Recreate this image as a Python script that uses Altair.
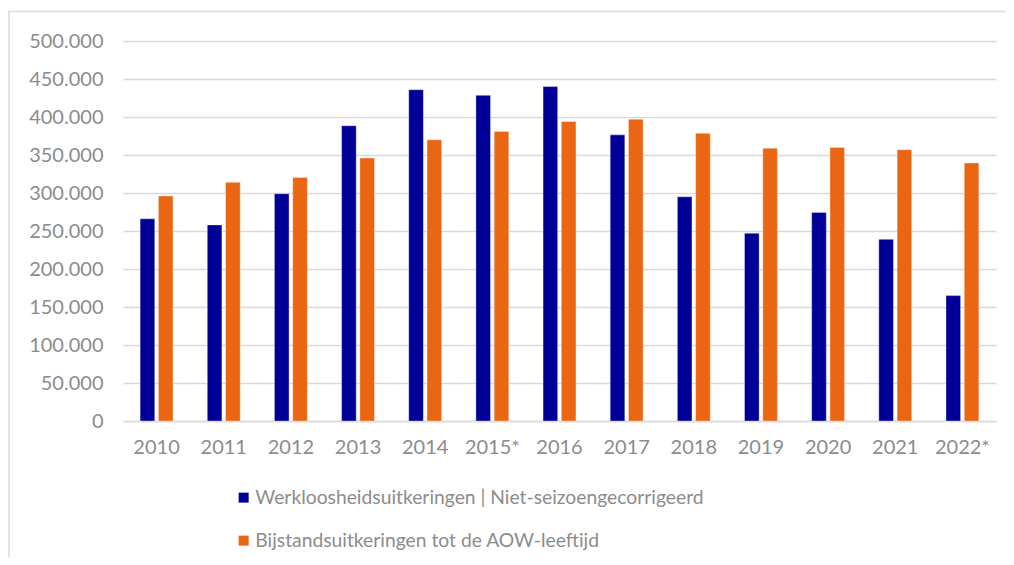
import altair as alt
import pandas as pd

years = ["2010", "2011", "2012", "2013", "2014", "2015*", "2016", "2017", "2018", "2019", "2020", "2021", "2022*"]
ww = [266000, 258000, 299000, 388500, 436000, 428500, 440000, 376500, 295000, 247000, 274500, 239000, 165000]
bijstand = [296000, 314000, 320500, 346000, 370000, 381000, 394000, 397000, 378500, 359000, 360000, 357000, 339500]
series = ["Werkloosheidsuitkeringen | Niet-seizoengecorrigeerd", "Bijstandsuitkeringen tot de AOW-leeftijd"]
colors = ["#000099", "#EA6612"]

rows = []
for i, y in enumerate(years):
    rows.append({"jaar": y, "serie": series[0], "waarde": ww[i]})
    rows.append({"jaar": y, "serie": series[1], "waarde": bijstand[i]})
df = pd.DataFrame(rows)

FONT = "Lato"
GRAY = "#8c8c8c"

bars = alt.Chart(df).mark_bar(stroke="white", strokeWidth=0.6, strokeOpacity=0.6).encode(
    x=alt.X("jaar:N", sort=years, title=None,
            scale=alt.Scale(paddingInner=0.51, paddingOuter=0.255),
            axis=alt.Axis(labelAngle=0, tickSize=0, labelPadding=16, domainColor="#d9d9d9",
                          domainWidth=1.5, labelFont=FONT, labelFontSize=20, labelColor=GRAY,
                          grid=False)),
    xOffset=alt.XOffset("serie:N", sort=series, scale=alt.Scale(paddingInner=0.2, paddingOuter=0)),
    y=alt.Y("waarde:Q", title=None,
            scale=alt.Scale(domain=[0, 500000]),
            axis=alt.Axis(values=list(range(0, 500001, 50000)), tickSize=0, labelPadding=20,
                          domain=False, gridColor="#d9d9d9", gridWidth=1.5,
                          labelFont=FONT, labelFontSize=20, labelColor=GRAY,
                          labelExpr="replace(format(datum.value, ','), ',', '.')")),
    color=alt.Color("serie:N", sort=series,
                    scale=alt.Scale(domain=series, range=colors),
                    legend=alt.Legend(title=None, orient="none", legendX=111, legendY=447,
                                      direction="vertical", symbolType="square", symbolSize=100,
                                      symbolStrokeWidth=0, labelFont=FONT, labelFontSize=19.3,
                                      labelColor=GRAY, rowPadding=23, labelOffset=2,
                                      labelLimit=800)),
)

frame_top = alt.Chart(alt.Data(values=[{}])).mark_rule(stroke="#d9d9d9", strokeWidth=1.5).encode(
    x=alt.value(-114.5), x2=alt.value(900), y=alt.value(-29.5)
)
frame_left = alt.Chart(alt.Data(values=[{}])).mark_rule(stroke="#d9d9d9", strokeWidth=1.5).encode(
    x=alt.value(-114), y=alt.value(-30), y2=alt.value(600)
)

chart = alt.layer(frame_top, frame_left, bars).properties(
    width=873, height=380,
    autosize=alt.AutoSizeParams(type="none"),
    padding={"left": 115, "top": 33, "right": 10, "bottom": 136},
).configure_view(stroke=None)

chart.save("out.html", embed_options={"renderer": "svg", "actions": False})
